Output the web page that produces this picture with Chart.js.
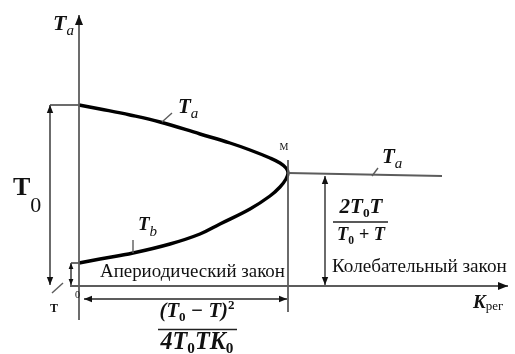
<!DOCTYPE html>
<html>
<head>
<meta charset="utf-8">
<script src="https://cdn.jsdelivr.net/npm/chart.js@4.4.1/dist/chart.umd.min.js"></script>
<style>
  html, body { margin: 0; padding: 0; background: #fff; }
  #wrap { width: 515px; height: 354px; position: relative; }
</style>
</head>
<body>
<div id="wrap"><canvas id="diagram"></canvas></div>
<script>
// Time constant levels and the boundary gain (drawing units)
const T0 = 18.1;
const T = 2.3;
const Tm = 11.3;     // 2*T0*T / (T0 + T)
const Kmax = 20.9;   // (T0 - T)^2 / (4*T0*T*K0)

// Ta branch (upper) and Tb branch (lower) of the curve
const taK = [0, 2.1, 5.1, 8.1, 12.1, 15.1, 17.1, 19.1, 20.1, 20.7, 20.9];
const taT = [18.1, 17.7, 17.1, 16.4, 15.2, 14.3, 13.6, 12.8, 12.3, 11.8, 11.3];
const tbK = [20.9, 20.7, 20.1, 19.1, 17.1, 14.1, 12.1, 9.1, 5.4, 2.1, 0];
const tbT = [11.3, 10.7, 9.9, 9.0, 7.7, 6.2, 5.2, 4.2, 3.3, 2.7, 2.3];

// Ta past point M (oscillatory law)
const taRightK = [20.9, 36.3];
const taRightT = [11.3, 11.0];

const pts = (xs, ys) => xs.map((x, i) => ({ x: x, y: ys[i] }));
const seg = (x1, y1, x2, y2) => [{ x: x1, y: y1 }, { x: x2, y: y2 }];

const gray = '#5c5c5c';
const serif = '"Liberation Serif", "DejaVu Serif", serif';

function line(data, opts) {
  return Object.assign({
    data: data,
    showLine: true,
    borderColor: gray,
    borderWidth: 1.8,
    pointRadius: 0,
    tension: 0
  }, opts || {});
}

const curve = pts(taK, taT).concat(pts(tbK, tbT).slice(1));

const datasets = [
  // axes
  line(seg(0, -3.4, 0, 27.1), { arrows: 'end', head: 10 }),
  line(seg(-0.9, 0, 42.9, 0), { arrows: 'end', head: 10 }),
  // vertical through M
  line(seg(Kmax, 12.6, Kmax, -2.6)),
  // extension lines and dimension arrows
  line(seg(-2.9, T0, 0, T0)),
  line(seg(-2.9, T0, -2.9, 0.1), { arrows: 'both' }),
  line(seg(-0.8, T, 0, T)),
  line(seg(-0.8, T, -0.8, 0.1), { arrows: 'both', head: 6 }),
  line(seg(0.5, -1.3, Kmax - 0.1, -1.3), { arrows: 'both' }),
  line(seg(24.6, taRightT[1], 24.6, 0.1), { arrows: 'both' }),
  // leaders to the labels
  line(seg(8.3, 16.4, 9.3, 17.3), { borderWidth: 1.4 }),
  line(seg(29.3, 11.0, 29.9, 11.8), { borderWidth: 1.4 }),
  line(seg(5.4, 4.6, 5.4, 3.3), { borderWidth: 1.4 }),
  line(seg(-2.7, -0.7, -1.6, 0.3), { borderWidth: 1.4 }),
  // Ta on the right of M
  line(pts(taRightK, taRightT)),
  // Ta / Tb curve
  line(curve, { borderColor: '#000', borderWidth: 3.4, tension: 0.4 })
];

// text labels: position in drawing units, runs of text
const it = 'italic', bi = 'bold italic';
const labels = [
  { x: -2.6, y: 25.6, parts: [{ t: 'T', size: 22, style: bi }, { t: 'a', size: 15, style: it, dy: 5 }] },
  { x: 9.9, y: 17.3, parts: [{ t: 'T', size: 21, style: bi }, { t: 'a', size: 15, style: it, dy: 5 }] },
  { x: 30.3, y: 12.3, parts: [{ t: 'T', size: 21, style: bi }, { t: 'a', size: 15, style: it, dy: 5 }] },
  { x: 5.9, y: 5.6, parts: [{ t: 'T', size: 19, style: bi }, { t: 'b', size: 15, style: it, dy: 6 }] },
  { x: -6.6, y: 9.1, parts: [{ t: 'T', size: 26, style: 'bold' }, { t: '0', size: 22, dy: 17 }] },
  { x: 20.5, y: 13.6, align: 'center', parts: [{ t: 'M', size: 10 }] },
  { x: -0.4, y: -1.2, parts: [{ t: '0', size: 10 }] },
  { x: -2.5, y: -2.6, align: 'center', parts: [{ t: 'T', size: 12, style: 'bold' }] },
  { x: 2.1, y: 0.9, width: 185, parts: [{ t: 'Апериодический закон', size: 17 }] },
  { x: 25.3, y: 1.4, width: 175, parts: [{ t: 'Колебательный закон', size: 17 }] },
  { x: 28.2, y: 7.3, align: 'center', width: 43, parts: [
    { t: '2T', size: 19, style: bi }, { t: '0', size: 12, style: 'bold', dy: 4 }, { t: 'T', size: 19, style: bi }] },
  { x: 28.2, y: 4.6, align: 'center', width: 48, parts: [
    { t: 'T', size: 19, style: bi }, { t: '0', size: 12, style: 'bold', dy: 4 }, { t: ' + T', size: 19, style: bi }] },
  { x: 11.8, y: -3.1, align: 'center', width: 75, parts: [
    { t: '(T', size: 19, style: bi }, { t: '0', size: 12, style: 'bold', dy: 4 }, { t: ' \u2212 T)', size: 19, style: bi },
    { t: '2', size: 12, style: 'bold', dy: -8 }] },
  { x: 11.8, y: -6.3, align: 'center', width: 73, parts: [
    { t: '4T', size: 19, style: bi }, { t: '0', size: 12, style: 'bold', dy: 4 }, { t: 'TK', size: 19, style: bi },
    { t: '0', size: 12, style: 'bold', dy: 4 }] },
  { x: 39.4, y: -2.2, parts: [{ t: 'K', size: 19, style: bi }, { t: 'рег', size: 13, dy: 2 }] }
];

// fraction bars
const bars = [
  seg(25.4, 6.4, 30.9, 6.4),
  seg(7.9, -4.35, 15.8, -4.35)
];

function drawRuns(ctx, parts, x, y, align, width) {
  const fontOf = (p, k) => `${p.style || ''} ${p.size * k}px ${serif}`;
  const measure = k => parts.reduce((w, p) => {
    ctx.font = fontOf(p, k);
    return w + ctx.measureText(p.t).width;
  }, 0);
  const k = width ? width / measure(1) : 1;
  let cx = align === 'center' ? x - measure(k) / 2 : x;
  parts.forEach(p => {
    ctx.font = fontOf(p, k);
    ctx.fillText(p.t, cx, y + (p.dy || 0));
    cx += ctx.measureText(p.t).width;
  });
}

const arrowPlugin = {
  id: 'arrowHeads',
  afterDatasetsDraw(chart) {
    const ctx = chart.ctx;
    chart.data.datasets.forEach((ds, i) => {
      if (!ds.arrows) return;
      const pd = chart.getDatasetMeta(i).data;
      const len = ds.head || 8;
      const tip = (a, b) => {
        const ang = Math.atan2(a.y - b.y, a.x - b.x);
        ctx.save();
        ctx.translate(a.x, a.y);
        ctx.rotate(ang);
        ctx.beginPath();
        ctx.moveTo(0, 0);
        ctx.lineTo(-len, -len * 0.4);
        ctx.lineTo(-len, len * 0.4);
        ctx.closePath();
        ctx.fillStyle = '#111';
        ctx.fill();
        ctx.restore();
      };
      const n = pd.length;
      tip(pd[n - 1], pd[n - 2]);
      if (ds.arrows === 'both') tip(pd[0], pd[1]);
    });
  }
};

const labelPlugin = {
  id: 'diagramLabels',
  afterDraw(chart) {
    const ctx = chart.ctx;
    const sx = chart.scales.x, sy = chart.scales.y;
    ctx.save();
    ctx.fillStyle = '#111';
    ctx.textBaseline = 'alphabetic';
    labels.forEach(l => {
      drawRuns(ctx, l.parts, sx.getPixelForValue(l.x), sy.getPixelForValue(l.y), l.align, l.width);
    });
    ctx.strokeStyle = '#222';
    ctx.lineWidth = 1.6;
    bars.forEach(b => {
      ctx.beginPath();
      ctx.moveTo(sx.getPixelForValue(b[0].x), sy.getPixelForValue(b[0].y));
      ctx.lineTo(sx.getPixelForValue(b[1].x), sy.getPixelForValue(b[1].y));
      ctx.stroke();
    });
    ctx.restore();
  }
};

new Chart(document.getElementById('diagram'), {
  type: 'scatter',
  data: { datasets: datasets },
  options: {
    responsive: true,
    maintainAspectRatio: false,
    animation: false,
    layout: { padding: 0 },
    plugins: { legend: { display: false }, tooltip: { enabled: false } },
    scales: {
      x: { type: 'linear', display: false, min: -7.9, max: 43.6 },
      y: { type: 'linear', display: false, min: -6.8, max: 28.6 }
    }
  },
  plugins: [arrowPlugin, labelPlugin]
});
</script>
</body>
</html>
